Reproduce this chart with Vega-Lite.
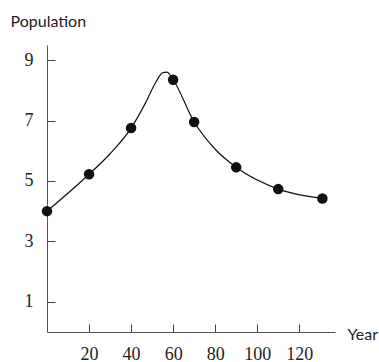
{
  "$schema": "https://vega.github.io/schema/vega-lite/v6.json",
  "width": 288,
  "height": 287,
  "autosize": {"type": "none"},
  "padding": {"left": 47, "top": 45, "right": 44, "bottom": 30},
  "background": "white",
  "config": {"view": {"stroke": null}},
  "datasets": {
    "curve": [
      {"year": 0, "pop": 4.0},
      {"year": 20, "pop": 5.22},
      {"year": 30, "pop": 5.9},
      {"year": 40, "pop": 6.75},
      {"year": 47, "pop": 7.6},
      {"year": 52, "pop": 8.3},
      {"year": 55, "pop": 8.58},
      {"year": 57, "pop": 8.6},
      {"year": 60, "pop": 8.35},
      {"year": 70, "pop": 6.95},
      {"year": 80, "pop": 6.05},
      {"year": 90, "pop": 5.45},
      {"year": 110, "pop": 4.73},
      {"year": 131, "pop": 4.42}
    ],
    "obs": [
      {"year": 0, "pop": 4.0},
      {"year": 20, "pop": 5.22},
      {"year": 40, "pop": 6.75},
      {"year": 60, "pop": 8.35},
      {"year": 70, "pop": 6.95},
      {"year": 90, "pop": 5.45},
      {"year": 110, "pop": 4.73},
      {"year": 131, "pop": 4.42}
    ]
  },
  "encoding": {
    "x": {
      "field": "year", "type": "quantitative",
      "scale": {"domain": [0, 137], "nice": false, "zero": false},
      "axis": {
        "values": [20, 40, 60, 80, 100, 120],
        "grid": false,
        "tickSize": -8,
        "tickColor": "#444",
        "domainColor": "#555",
        "labelFont": "Liberation Serif",
        "labelFontSize": 18,
        "labelColor": "#222",
        "labelPadding": 21,
        "title": "Year",
        "titleFont": "Lato",
        "titleFontSize": 16,
        "titleFontWeight": "normal",
        "titleColor": "#222",
        "titleAlign": "left",
        "titleBaseline": "alphabetic",
        "titleX": 300,
        "titleY": 7
      }
    },
    "y": {
      "field": "pop", "type": "quantitative",
      "scale": {"domain": [0, 9.5], "nice": false, "zero": false},
      "axis": {
        "values": [1, 3, 5, 7, 9],
        "grid": false,
        "tickSize": -8,
        "tickColor": "#444",
        "domainColor": "#555",
        "labelFont": "Liberation Serif",
        "labelFontSize": 18,
        "labelColor": "#222",
        "labelPadding": 22,
        "title": "Population",
        "titleFont": "Lato",
        "titleFontSize": 16,
        "titleFontWeight": "normal",
        "titleColor": "#222",
        "titleAngle": 0,
        "titleAlign": "left",
        "titleBaseline": "alphabetic",
        "titleX": -37,
        "titleY": -19
      }
    }
  },
  "layer": [
    {
      "data": {"name": "curve"},
      "mark": {"type": "line", "interpolate": "monotone", "color": "#111", "strokeWidth": 1.2}
    },
    {
      "data": {"name": "obs"},
      "mark": {"type": "point", "filled": true, "color": "#111", "size": 110, "opacity": 1}
    }
  ]
}
